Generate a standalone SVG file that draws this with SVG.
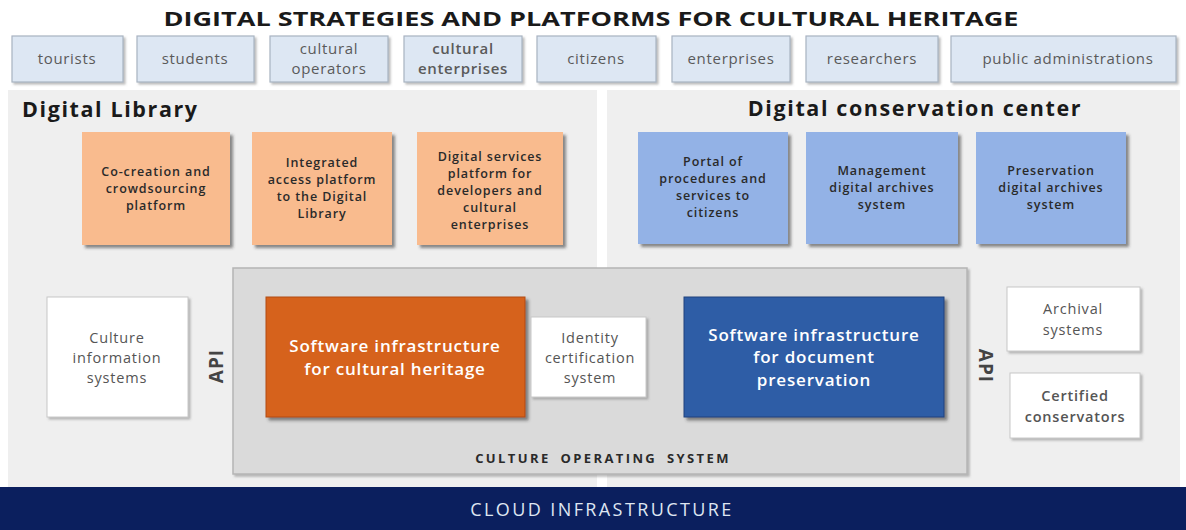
<svg xmlns="http://www.w3.org/2000/svg" width="1186" height="530" viewBox="0 0 1186 530">
<defs>
<filter id="sh" x="-10%" y="-10%" width="125%" height="125%">
<feDropShadow dx="3" dy="3" stdDeviation="1.5" flood-color="#333" flood-opacity="0.55"/>
</filter>
<filter id="sh2" x="-10%" y="-10%" width="125%" height="125%">
<feDropShadow dx="2" dy="2" stdDeviation="1.2" flood-color="#777" flood-opacity="0.5"/>
</filter>
<style>
text{font-family:"Open Sans","Liberation Sans",sans-serif;}
.user rect{fill:#dde7f3;stroke:#a9b4c2;stroke-width:1.2;filter:url(#sh2);}
.user text{font-size:15px;letter-spacing:0.7px;fill:#5a5a5a;text-anchor:middle;}
.panel{fill:#efefef;}
.h{font-size:21.5px;letter-spacing:1.6px;font-weight:bold;fill:#1a1a1a;}
.or rect{fill:#f9bb8e;filter:url(#sh);}
.bl rect{fill:#93b2e6;filter:url(#sh);}
.or text,.bl text{font-size:12.5px;letter-spacing:0.9px;font-weight:600;fill:#2a2a2a;text-anchor:middle;}
.wh rect{fill:#ffffff;stroke:#c8c8c8;stroke-width:1;filter:url(#sh2);}
.wh text{font-size:14.5px;letter-spacing:0.8px;fill:#555;text-anchor:middle;}
.big text{font-size:17px;letter-spacing:0.8px;font-weight:600;fill:#ffffff;text-anchor:middle;}
.api{font-size:19px;font-weight:bold;fill:#444;letter-spacing:1px;}
</style>
</defs>
<rect width="1186" height="530" fill="#ffffff"/>
<text x="591" y="26" text-anchor="middle" font-size="20" font-weight="bold" fill="#1a1a1a" textLength="855" lengthAdjust="spacingAndGlyphs">DIGITAL STRATEGIES AND PLATFORMS FOR CULTURAL HERITAGE</text>

<g id="users">
<g id="u-tourists" class="user"><rect x="12" y="36" width="111" height="46"/><text x="67" y="64">tourists</text></g>
<g id="u-students" class="user"><rect x="137" y="36" width="117" height="46"/><text x="195" y="64">students</text></g>
<g id="u-cultural-operators" class="user"><rect x="270" y="36" width="118" height="46"/><text x="329" y="54">cultural</text><text x="329" y="74">operators</text></g>
<g id="u-cultural-enterprises" class="user"><rect x="404" y="36" width="118" height="46"/><text x="463" y="54" font-weight="600" fill="#333" letter-spacing="0.3">cultural</text><text x="463" y="74" font-weight="600" fill="#333" letter-spacing="0.3">enterprises</text></g>
<g id="u-citizens" class="user"><rect x="537" y="36" width="119" height="46"/><text x="596" y="64">citizens</text></g>
<g id="u-enterprises" class="user"><rect x="672" y="36" width="118" height="46"/><text x="731" y="64">enterprises</text></g>
<g id="u-researchers" class="user"><rect x="806" y="36" width="132" height="46"/><text x="872" y="64">researchers</text></g>
<g id="u-public" class="user"><rect x="951" y="36" width="225" height="46"/><text x="1068" y="64">public administrations</text></g>
</g>

<g id="panel-library">
<rect class="panel" x="8" y="90" width="589" height="397"/>
<text class="h" x="22" y="117">Digital Library</text>
</g>
<g id="panel-conservation">
<rect class="panel" x="607" y="90" width="573" height="397"/>
<text class="h" x="915" y="116" text-anchor="middle">Digital conservation center</text>
</g>

<g id="cocreation" class="or"><rect x="82" y="132" width="148" height="113"/><text x="156" y="176">Co-creation and</text><text x="156" y="193">crowdsourcing</text><text x="156" y="210">platform</text></g>
<g id="integrated" class="or"><rect x="252" y="132" width="140" height="113"/><text x="322" y="167">Integrated</text><text x="322" y="184">access platform</text><text x="322" y="201">to the Digital</text><text x="322" y="218">Library</text></g>
<g id="digitalservices" class="or"><rect x="417" y="132" width="146" height="113"/><text x="490" y="161">Digital services</text><text x="490" y="178">platform for</text><text x="490" y="195">developers and</text><text x="490" y="212">cultural</text><text x="490" y="229">enterprises</text></g>

<g id="portal" class="bl"><rect x="638" y="132" width="150" height="112"/><text x="713" y="166">Portal of</text><text x="713" y="183">procedures and</text><text x="713" y="200">services to</text><text x="713" y="217">citizens</text></g>
<g id="management" class="bl"><rect x="806" y="132" width="152" height="112"/><text x="882" y="175">Management</text><text x="882" y="192">digital archives</text><text x="882" y="209">system</text></g>
<g id="preservation" class="bl"><rect x="976" y="132" width="150" height="112"/><text x="1051" y="175">Preservation</text><text x="1051" y="192">digital archives</text><text x="1051" y="209">system</text></g>

<g id="culture-os">
<rect x="233" y="268" width="734" height="206" fill="#dadada" stroke="#b5b5b5" stroke-width="1.5" filter="url(#sh2)"/>
<text x="603" y="463" text-anchor="middle" font-size="13" font-weight="bold" fill="#2a2a2a" letter-spacing="2.4" word-spacing="4">CULTURE OPERATING SYSTEM</text>
</g>

<g id="culture-info" class="wh"><rect x="47" y="297" width="141" height="120"/><text x="117" y="343">Culture</text><text x="117" y="363">information</text><text x="117" y="383">systems</text></g>
<text class="api" x="0" y="0" text-anchor="middle" transform="translate(223,366) rotate(-90)">API</text>

<g id="sw-cultural" class="big"><rect x="266" y="297" width="259" height="120" fill="#d6621b" stroke="#b24d10" stroke-width="1" filter="url(#sh)"/><text x="395" y="352">Software infrastructure</text><text x="395" y="375">for cultural heritage</text></g>
<g id="identity" class="wh"><rect x="531" y="317" width="115" height="80"/><text x="590" y="343">Identity</text><text x="590" y="363">certification</text><text x="590" y="383">system</text></g>
<g id="sw-document" class="big"><rect x="684" y="297" width="260" height="120" fill="#2f5da6" stroke="#1f447f" stroke-width="1" filter="url(#sh)"/><text x="814" y="341">Software infrastructure</text><text x="814" y="363">for  document</text><text x="814" y="386">preservation</text></g>
<text class="api" x="0" y="0" text-anchor="middle" transform="translate(979,366) rotate(90)">API</text>

<g id="archival" class="wh"><rect x="1007" y="287" width="133" height="64"/><text x="1073" y="314">Archival</text><text x="1073" y="335">systems</text></g>
<g id="certified" class="wh"><rect x="1010" y="373" width="130" height="65"/><text x="1075" y="401" font-weight="600" fill="#222" letter-spacing="0.3">Certified</text><text x="1075" y="422" font-weight="600" fill="#222" letter-spacing="0.3">conservators</text></g>

<g id="cloud">
<rect x="0" y="487" width="1186" height="43" fill="#0b1f5e"/>
<text x="602" y="516" text-anchor="middle" font-size="18" letter-spacing="2.4" fill="#dfe6f2">CLOUD INFRASTRUCTURE</text>
</g>
<g id="connectors"/>
</svg>
